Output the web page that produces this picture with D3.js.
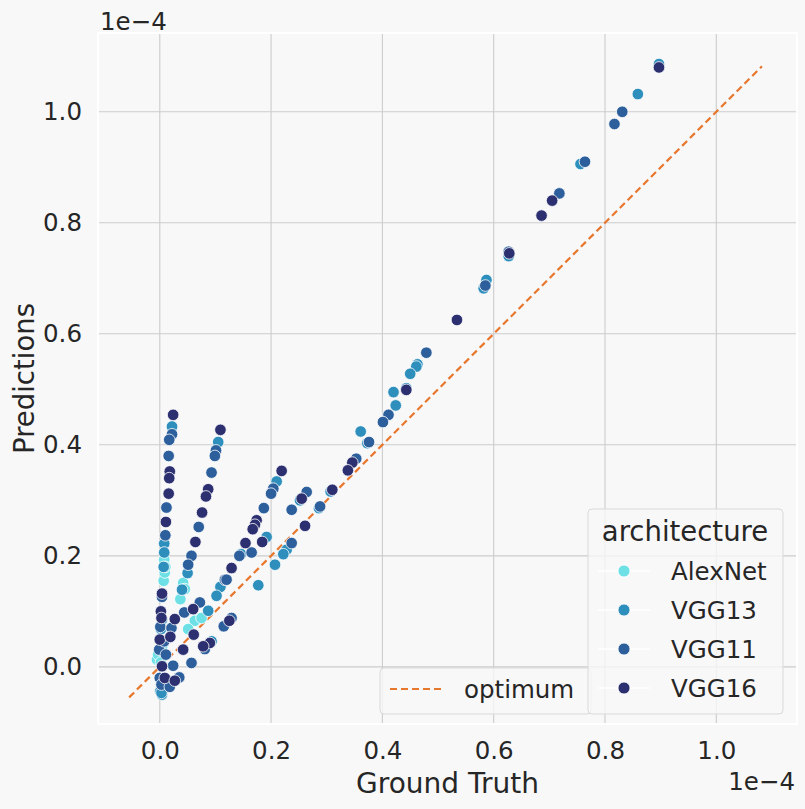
<!DOCTYPE html>
<html>
<head>
<meta charset="utf-8">
<script src="https://cdn.jsdelivr.net/npm/d3@7"></script>
<style>
  html, body { margin: 0; padding: 0; background: #f8f8f8; }
  svg { display: block; font-family: "DejaVu Sans", sans-serif; }
</style>
</head>
<body>
<svg id="chart" width="805" height="809"></svg>
<script>
// values in units of 1e-4
const architectures = ["AlexNet", "VGG13", "VGG11", "VGG16"];
const colors = ["#6de0e6", "#2e8fbd", "#2c5f9b", "#2c3070"];
const xTicks = [0.0, 0.2, 0.4, 0.6, 0.8, 1.0];
const yTicks = [0.0, 0.2, 0.4, 0.6, 0.8, 1.0];
const optimumRange = [-0.055, 1.082];

const alexnetGT   = [0.008, 0.007, 0.009, 0.042, 0.037, 0.045, 0.063, 0.051, 0.075, -0.005, -0.003, 0.004, 0.010, 0.002];
const alexnetPred = [0.193, 0.155, 0.170, 0.151, 0.122, 0.140, 0.083, 0.068, 0.088, 0.013, 0.022, 0.035, 0.180, 0.008];

const vgg13GT   = [0.897, 0.859, 0.756, 0.627, 0.587, 0.582, 0.463, 0.461, 0.450, 0.443, 0.420, 0.424, 0.361, 0.373, 0.307, 0.286, 0.252, 0.228, 0.222, 0.207, 0.177, 0.210, 0.192, 0.146, 0.109, 0.102, 0.087, 0.093, 0.105, 0.050, 0.040, 0.022, 0.008, 0.008, 0.007, 0.001, 0.004, 0.003, 0.004, 0.002, 0.010];
const vgg13Pred = [1.086, 1.032, 0.906, 0.740, 0.697, 0.682, 0.545, 0.541, 0.528, 0.502, 0.495, 0.471, 0.424, 0.403, 0.316, 0.286, 0.300, 0.211, 0.203, 0.184, 0.147, 0.334, 0.234, 0.203, 0.144, 0.128, 0.101, 0.046, 0.405, 0.169, 0.139, 0.433, 0.222, 0.206, 0.180, -0.044, -0.050, -0.047, 0.085, 0.068, -0.030];

const vgg11GT   = [0.831, 0.817, 0.764, 0.718, 0.627, 0.585, 0.479, 0.411, 0.401, 0.376, 0.353, 0.288, 0.264, 0.237, 0.237, 0.204, 0.200, 0.187, 0.165, 0.143, 0.117, 0.129, 0.115, 0.081, 0.101, 0.099, 0.093, 0.070, 0.057, 0.051, 0.022, 0.017, 0.016, 0.012, 0.010, 0.004, 0.001, -0.001, 0.000, 0.003, 0.035, 0.018, 0.011, 0.024, 0.057, 0.072, 0.044, 0.021, 0.120, 0.008];
const vgg11Pred = [1.000, 0.978, 0.910, 0.853, 0.748, 0.687, 0.566, 0.454, 0.441, 0.405, 0.375, 0.289, 0.315, 0.283, 0.223, 0.321, 0.312, 0.286, 0.206, 0.200, 0.157, 0.088, 0.073, 0.032, 0.390, 0.380, 0.350, 0.252, 0.200, 0.184, 0.419, 0.409, 0.380, 0.287, 0.237, 0.126, 0.072, 0.031, -0.020, -0.032, -0.019, -0.036, 0.022, 0.002, 0.007, 0.116, 0.098, 0.070, 0.157, 0.046];

const vgg16GT   = [0.897, 0.705, 0.686, 0.628, 0.534, 0.443, 0.346, 0.338, 0.310, 0.261, 0.255, 0.219, 0.174, 0.171, 0.167, 0.184, 0.154, 0.129, 0.125, 0.090, 0.078, 0.109, 0.087, 0.083, 0.076, 0.064, 0.024, 0.018, 0.017, 0.016, 0.011, 0.004, 0.002, 0.000, 0.004, 0.009, 0.027, 0.060, 0.027, 0.019, 0.061, 0.042, 0.003];
const vgg16Pred = [1.080, 0.840, 0.813, 0.745, 0.625, 0.499, 0.368, 0.354, 0.319, 0.254, 0.303, 0.353, 0.264, 0.256, 0.248, 0.225, 0.223, 0.178, 0.083, 0.043, 0.037, 0.427, 0.320, 0.307, 0.278, 0.225, 0.454, 0.352, 0.340, 0.312, 0.261, 0.132, 0.100, 0.049, 0.001, -0.020, -0.025, 0.104, 0.086, 0.054, 0.058, 0.031, 0.088];

const seriesGT = [alexnetGT, vgg13GT, vgg11GT, vgg16GT];
const seriesPred = [alexnetPred, vgg13Pred, vgg11Pred, vgg16Pred];

(function () {
const svg = d3.select("#chart");
const W = 805, H = 809;
const pl = 98, pr = 797, pt = 33, pb = 724;
const bg = "#f8f8f8";
svg.append("rect").attr("width", W).attr("height", H).attr("fill", bg);

const x = d3.scaleLinear().domain([-0.111, 1.145]).range([pl, pr]);
const y = d3.scaleLinear().domain([-0.103, 1.142]).range([pb, pt]);

// grid
const grid = svg.append("g");
grid.selectAll("line.gx").data(xTicks).join("line").attr("class", "gx")
  .attr("x1", d => x(d)).attr("x2", d => x(d)).attr("y1", pt).attr("y2", pb)
  .attr("stroke", "#cccccc").attr("stroke-width", 1.1);
grid.selectAll("line.gy").data(yTicks).join("line").attr("class", "gy")
  .attr("y1", d => y(d)).attr("y2", d => y(d)).attr("x1", pl).attr("x2", pr)
  .attr("stroke", "#cccccc").attr("stroke-width", 1.1);

// axes (labels only)
const xAxis = d3.axisBottom(x).tickValues(xTicks).tickFormat(d3.format(".1f")).tickSize(0).tickPadding(18);
const gx = svg.append("g").attr("transform", `translate(0,${pb})`).call(xAxis);
gx.select(".domain").remove();
gx.selectAll("text").attr("font-size", 24.5).attr("fill", "#262626").attr("font-family", "DejaVu Sans");

const yAxis = d3.axisLeft(y).tickValues(yTicks).tickFormat(d3.format(".1f")).tickSize(0).tickPadding(16);
const gy = svg.append("g").attr("transform", `translate(${pl},0)`).call(yAxis);
gy.select(".domain").remove();
gy.selectAll("text").attr("font-size", 24.5).attr("fill", "#262626").attr("font-family", "DejaVu Sans");

// spines
svg.append("rect").attr("x", pl).attr("y", pt).attr("width", pr - pl).attr("height", pb - pt)
  .attr("fill", "none").attr("stroke", "#ffffff").attr("stroke-width", 2);

// optimum line
svg.append("line")
  .attr("x1", x(optimumRange[0])).attr("y1", y(optimumRange[0]))
  .attr("x2", x(optimumRange[1])).attr("y2", y(optimumRange[1]))
  .attr("stroke", "#e8772e").attr("stroke-width", 2.2).attr("stroke-dasharray", "7,4");

// points
const pts = svg.append("g");
architectures.forEach((name, i) => {
  const data = seriesGT[i].map((g, k) => ({ g, p: seriesPred[i][k] }));
  pts.append("g").selectAll("circle").data(data).join("circle")
    .attr("cx", d => x(d.g)).attr("cy", d => y(d.p)).attr("r", 5.8)
    .attr("fill", colors[i]).attr("stroke", "#ffffff").attr("stroke-width", 0.8);
});

// offset texts
svg.append("text").attr("x", 100).attr("y", 30).attr("font-size", 24.5).attr("fill", "#262626").text("1e\u22124");
svg.append("text").attr("x", 795).attr("y", 790).attr("text-anchor", "end").attr("font-size", 24.5).attr("fill", "#262626").text("1e\u22124");

// axis labels
svg.append("text").attr("x", (pl + pr) / 2).attr("y", 793).attr("text-anchor", "middle")
  .attr("font-size", 28).attr("fill", "#262626").text("Ground Truth");
svg.append("text").attr("transform", `translate(34,${(pt + pb) / 2}) rotate(-90)`).attr("text-anchor", "middle")
  .attr("font-size", 27.5).attr("fill", "#262626").text("Predictions");

// legend 1: optimum
const l1 = svg.append("g");
l1.append("rect").attr("x", 380).attr("y", 668).attr("width", 211).attr("height", 46).attr("rx", 4)
  .attr("fill", bg).attr("fill-opacity", 0.8).attr("stroke", "#d9d9d9").attr("stroke-width", 1);
l1.append("line").attr("x1", 390).attr("x2", 443).attr("y1", 689).attr("y2", 689)
  .attr("stroke", "#e8772e").attr("stroke-width", 2.2).attr("stroke-dasharray", "7,4");
l1.append("text").attr("x", 464).attr("y", 698).attr("font-size", 24.5).attr("fill", "#262626").text("optimum");

// legend 2: architecture
const l2 = svg.append("g");
l2.append("rect").attr("x", 588).attr("y", 509).attr("width", 195).attr("height", 205).attr("rx", 4)
  .attr("fill", bg).attr("fill-opacity", 0.8).attr("stroke", "#d9d9d9").attr("stroke-width", 1);
l2.append("text").attr("x", 685).attr("y", 541).attr("text-anchor", "middle").attr("font-size", 27.5).attr("fill", "#262626").text("architecture");
const ly = d3.scalePoint().domain(architectures).range([571, 688]);
architectures.forEach((name, i) => {
  const yy = ly(name);
  l2.append("line").attr("x1", 598).attr("x2", 650).attr("y1", yy).attr("y2", yy).attr("stroke", "#ffffff").attr("stroke-width", 1.5);
  l2.append("circle").attr("cx", 624).attr("cy", yy).attr("r", 6).attr("fill", colors[i]).attr("stroke", "#ffffff").attr("stroke-width", 0.8);
  l2.append("text").attr("x", 671).attr("y", yy + 9).attr("font-size", 24.5).attr("fill", "#262626").text(name);
});
})();
</script>
</body>
</html>
